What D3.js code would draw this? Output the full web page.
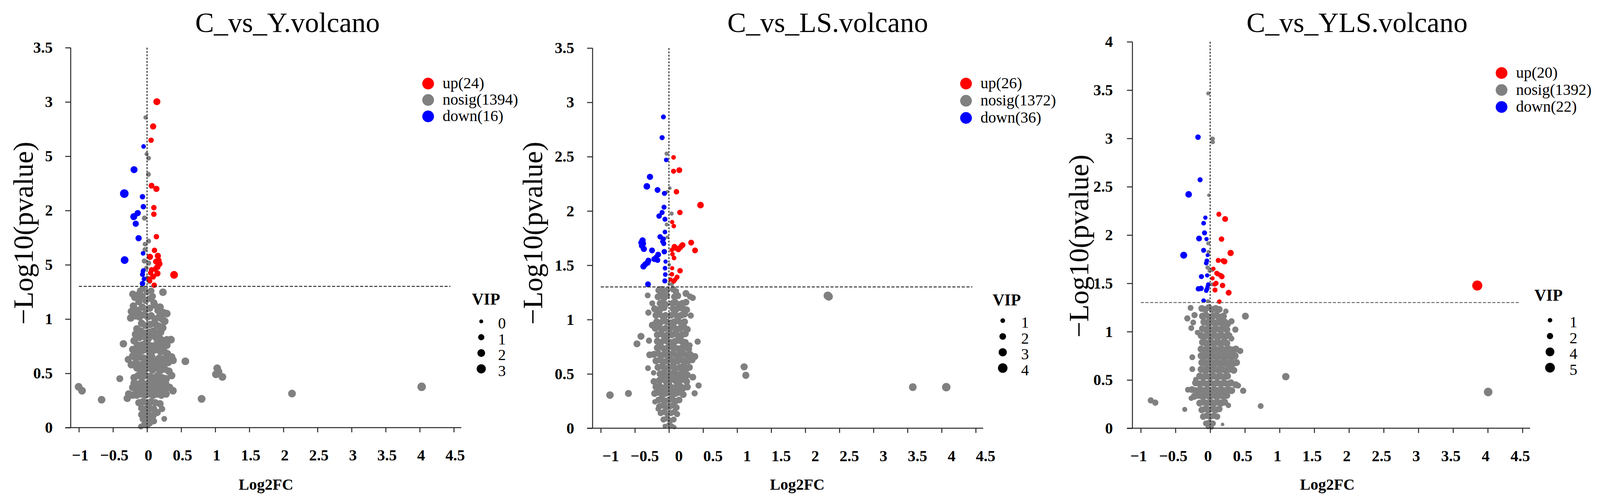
<!DOCTYPE html>
<html>
<head>
<meta charset="utf-8">
<script src="https://cdn.jsdelivr.net/npm/d3@7"></script>
<style>
body { margin: 0; background: #fff; }
svg text { font-family: "Liberation Serif", "Times New Roman", serif; }
</style>
</head>
<body>
<svg id="chart" width="4097" height="1288"></svg>
<script>

// ---- data: [log2FC, -log10(p), VIP] ----

const panelTitles = ["C_vs_Y.volcano", "C_vs_LS.volcano", "C_vs_YLS.volcano"];
const upCounts = [24, 26, 20];
const nosigCounts = [1394, 1372, 1392];
const downCounts = [16, 36, 22];
const yMax = [3.5, 3.5, 4];
const xTicks = [-1, -0.5, 0, 0.5, 1, 1.5, 2, 2.5, 3, 3.5, 4, 4.5];
const yTicks = [
  [0, 0.5, 1, 1.5, 2, 2.5, 3, 3.5],
  [0, 0.5, 1, 1.5, 2, 2.5, 3, 3.5],
  [0, 0.5, 1, 1.5, 2, 2.5, 3, 3.5, 4]
];
const vipBreaks = [[0, 1, 2, 3], [1, 2, 3, 4], [1, 2, 4, 5]];
const vipDomain = [[0, 3], [1, 4], [1, 5]];
const pCut = 1.30103; // -log10(0.05)

const yUp = [[0.144,3.002,1.5],[0.089,2.774,1.05],[0.059,2.647,0.64],[0.066,2.228,0.84],[0.137,2.199,1.05],
  [0.100,2.026,0.64],[0.100,1.966,0.64],[0.137,1.759,0.64],[0.109,1.633,0.64],[0.042,1.573,1.05],
  [0.158,1.582,1.05],[0.181,1.509,1.05],[0.152,1.480,1.05],[0.066,1.453,0.64],[0.152,1.420,1.05],
  [0.053,1.425,0.64],[0.396,1.407,2.0],[0.044,1.351,0.3],[0.105,1.312,0.64],[0.12,1.46,0.8],
  [0.09,1.39,0.8],[0.17,1.54,0.9],[0.03,1.37,0.5],[0.13,1.53,0.8]];
const yDown = [[-0.191,2.376,1.5],[-0.334,2.156,2.57],[-0.067,2.127,0.64],[-0.054,2.035,0.64],[-0.137,1.976,1.05],
  [-0.195,1.943,1.5],[-0.166,1.878,1.05],[-0.124,1.745,1.05],[-0.058,1.605,0.3],[-0.329,1.543,2.0],
  [-0.054,1.448,0.3],[-0.067,1.411,0.47],[-0.067,1.327,0.64],[-0.051,2.59,0.3],[-0.06,1.44,0.3],[-0.045,1.37,0.3]];
const yNosig = [
  [-0.021,2.857,0.2],[-0.006,2.52,0.1],[0.023,2.482,0.3],[0.02,2.333,0.4],[-0.038,1.93,0.5],[0.023,1.718,0.4],
  [-0.03,1.69,0.3],[-0.03,1.64,0.4],[-0.04,1.535,0.5],[0.023,1.516,0.5],[-0.01,1.47,0.3],[0.003,1.375,0.6],[0.035,1.347,0.5],
  [-0.21,1.23,1.6],[-0.15,1.22,1.7],[-0.10,1.26,1.4],[-0.06,1.28,1.2],[0.0,1.25,1.2],[0.06,1.26,1.3],[0.08,1.21,1.4],
  [-0.18,1.20,1.7],[-0.12,1.16,1.7],[-0.07,1.21,1.6],[-0.02,1.17,1.5],[0.04,1.19,1.4],[0.10,1.15,1.6],
  [-0.23,1.07,1.8],[-0.20,1.12,1.8],[-0.13,1.08,1.7],[-0.07,1.11,1.7],[-0.01,1.09,1.6],[0.04,1.10,1.6],[0.11,1.13,1.7],
  [0.16,1.08,1.8],[0.19,1.11,1.9],[0.24,1.06,1.8],[0.29,1.05,1.9],
  [-0.24,1.01,1.9],[-0.17,1.03,1.8],[-0.11,1.02,1.8],[-0.05,1.04,1.7],[0.01,1.02,1.7],[0.06,1.03,1.8],[0.12,1.00,1.8],
  [0.18,1.02,1.8],[0.22,1.00,1.8],[0.26,0.98,1.9],
  [-0.15,0.91,1.7],[-0.08,0.96,1.8],[-0.02,0.94,1.7],[0.04,0.95,1.7],[0.10,0.96,1.8],[0.15,0.94,1.8],[0.19,0.93,1.9],[0.23,0.92,1.9],
  [-0.15,0.87,1.8],[-0.09,0.89,1.7],[-0.03,0.87,1.7],[0.03,0.88,1.7],[0.09,0.89,1.7],[0.14,0.87,1.8],[0.20,0.88,1.8],
  [-0.17,0.86,1.8],[-0.11,0.83,1.8],[-0.04,0.84,1.7],[0.02,0.82,1.7],[0.06,0.85,1.8],[0.13,0.83,1.9],[0.19,0.82,1.8],
  [0.23,0.80,1.9],[0.29,0.81,1.8],[0.35,0.81,2.0],
  [-0.19,0.80,1.9],[-0.14,0.76,1.8],[-0.08,0.76,1.8],[-0.02,0.78,1.7],[0.03,0.76,1.7],[0.08,0.75,1.8],[0.14,0.77,1.8],
  [0.17,0.75,1.9],[0.23,0.76,1.8],[0.29,0.76,1.9],
  [-0.21,0.72,1.8],[-0.13,0.70,1.8],[-0.07,0.71,1.8],[-0.02,0.72,1.8],[0.04,0.70,1.8],[0.09,0.71,1.8],[0.15,0.72,1.9],
  [0.20,0.70,1.8],[0.25,0.70,1.9],[0.30,0.68,1.8],
  [-0.21,0.66,1.8],[-0.17,0.64,1.8],[-0.11,0.65,1.8],[-0.05,0.64,1.8],[0.02,0.64,1.8],[0.07,0.65,1.8],[0.12,0.62,1.9],
  [0.18,0.64,1.8],[0.23,0.63,1.9],[0.29,0.64,1.8],[0.36,0.65,2.0],
  [-0.23,0.58,1.9],[-0.16,0.59,1.8],[-0.10,0.58,1.8],[-0.04,0.59,1.8],[0.01,0.58,1.8],[0.06,0.59,1.8],[0.12,0.58,1.8],
  [0.18,0.59,1.8],[0.24,0.58,1.8],[0.31,0.60,1.9],[0.38,0.62,2.0],
  [-0.15,0.55,1.8],[-0.09,0.53,1.8],[-0.03,0.54,1.8],[0.03,0.55,1.8],[0.08,0.53,1.8],[0.14,0.55,1.9],[0.20,0.53,1.9],
  [0.26,0.54,1.8],[0.32,0.52,1.9],
  [-0.19,0.46,1.8],[-0.13,0.48,1.8],[-0.07,0.47,1.8],[-0.02,0.48,1.8],[0.04,0.47,1.8],[0.10,0.46,1.8],[0.16,0.48,1.9],
  [0.22,0.46,1.8],[0.28,0.45,1.9],[0.36,0.48,1.9],
  [-0.19,0.41,1.8],[-0.14,0.40,1.8],[-0.08,0.42,1.8],[-0.02,0.40,1.8],[0.04,0.41,1.8],[0.10,0.40,1.8],[0.16,0.42,1.8],
  [0.22,0.40,1.8],[0.27,0.41,1.9],
  [-0.21,0.37,1.8],[-0.15,0.35,1.8],[-0.09,0.36,1.8],[-0.03,0.35,1.8],[0.03,0.36,1.8],[0.09,0.35,1.8],[0.15,0.37,1.8],
  [0.21,0.35,1.8],[0.27,0.36,1.8],[0.33,0.37,1.9],[0.38,0.34,1.9],
  [-0.27,0.31,1.8],[-0.21,0.30,1.8],[-0.15,0.30,1.8],[-0.09,0.31,1.8],[-0.03,0.30,1.8],[0.03,0.31,1.8],[0.09,0.30,1.8],
  [0.15,0.31,1.8],[0.21,0.30,1.8],[0.28,0.31,1.8],[-0.29,0.27,1.8],
  [-0.12,0.23,1.7],[-0.06,0.24,1.7],[0.0,0.23,1.7],[0.06,0.24,1.7],[0.12,0.23,1.7],[0.19,0.22,1.7],
  [-0.08,0.18,1.6],[-0.02,0.17,1.6],[0.04,0.18,1.6],[0.10,0.17,1.6],[0.15,0.14,1.6],
  [-0.08,0.12,1.6],[-0.03,0.11,1.5],[0.03,0.12,1.5],[0.09,0.11,1.5],
  [-0.06,0.08,1.4],[-0.01,0.07,1.4],[0.05,0.08,1.4],[0.10,0.06,1.2],
  [-0.09,0.01,0.8],[-0.04,0.03,1.2],[0.0,0.02,1.1],[0.04,0.04,1.2],
  [0.233,1.247,1.9],[-0.347,0.772,1.8],[0.562,0.611,2.0],[-0.276,0.628,1.6],[-0.400,0.451,1.5],[-0.667,0.257,1.9],
  [0.800,0.265,2.0],[1.029,0.547,2.0],[1.105,0.467,2.0],[1.010,0.491,2.0],[1.048,0.515,2.0],[0.219,0.172,1.2],
  [0.252,0.081,0.8],[-1.004,0.376,2.0],[-0.954,0.340,2.0],[2.126,0.314,2.0],[4.028,0.376,2.5]];

const lsUp = [[0.068,2.493,1.0],[0.068,2.366,1.17],[0.152,2.376,1.54],[0.110,2.177,1.35],[0.463,2.054,1.96],
  [0.161,1.986,1.35],[0.047,1.898,0.85],[0.071,1.861,1.0],[0.326,1.709,1.54],[0.200,1.686,1.54],
  [0.081,1.670,1.54],[0.138,1.645,1.35],[0.383,1.637,1.54],[0.052,1.602,1.0],[0.075,1.567,1.0],
  [0.047,1.473,0.85],[0.163,1.450,1.35],[0.043,1.417,1.0],[0.119,1.391,1.17],[0.071,1.352,1.0],
  [0.104,1.657,1.3],[0.167,1.664,1.4],[0.024,1.368,0.9],[0.091,1.368,1.0],[0.043,1.641,1.0],[0.186,1.68,1.4]];
const lsDown = [[-0.081,2.866,1.1],[-0.100,2.675,1.17],[-0.039,2.470,1.0],[-0.278,2.314,1.74],[-0.324,2.226,1.96],
  [-0.167,2.193,1.54],[-0.066,2.162,1.17],[-0.072,2.035,1.17],[-0.100,1.986,1.17],[-0.144,1.953,1.35],
  [-0.058,1.924,1.17],[-0.058,1.807,1.0],[-0.129,1.762,1.35],[-0.387,1.729,1.74],[-0.081,1.742,1.17],
  [-0.381,1.700,1.74],[-0.076,1.700,1.17],[-0.368,1.651,1.74],[-0.248,1.637,1.54],[-0.068,1.625,1.35],
  [-0.158,1.598,1.54],[-0.215,1.557,1.54],[-0.167,1.547,1.35],[-0.314,1.524,1.74],[-0.374,1.489,1.74],
  [-0.049,1.534,0.85],[-0.057,1.473,1.0],[-0.053,1.415,1.0],[-0.060,1.356,1.17],[-0.307,1.325,1.54],
  [-0.406,1.709,1.6],[-0.349,1.508,1.6],[-0.186,1.573,1.4],[-0.091,1.719,1.2],[-0.301,1.543,1.6],[-0.397,1.68,1.6]];
const lsNosig = [
  [-0.034,2.528,0.8],[0.014,2.210,0.6],[-0.024,2.177,0.6],[0.039,1.976,0.8],[-0.034,1.875,0.7],[-0.024,1.758,0.6],
  [0.005,1.505,0.6],[0.005,1.329,0.6],[0.043,1.325,0.8],
  [-0.15,1.27,2.0],[-0.11,1.28,1.9],[-0.07,1.26,2.0],[-0.03,1.27,1.8],[0.06,1.28,1.9],[0.10,1.26,2.0],
  [-0.16,1.21,2.1],[-0.12,1.22,2.0],[-0.07,1.20,2.1],[-0.03,1.22,1.9],[0.08,1.21,2.0],[0.13,1.22,2.1],[0.25,1.24,2.2],
  [-0.13,1.15,2.1],[-0.09,1.16,2.0],[-0.05,1.14,2.1],[0.05,1.15,2.0],[0.09,1.16,2.1],[0.14,1.14,2.1],[0.20,1.15,2.2],[0.25,1.16,2.1],
  [-0.21,1.10,2.2],[-0.17,1.09,2.1],[-0.12,1.10,2.1],[-0.07,1.11,2.1],[0.06,1.10,2.1],[0.10,1.09,2.1],[0.15,1.11,2.2],
  [0.21,1.10,2.2],[0.26,1.09,2.1],
  [-0.19,1.04,2.2],[-0.14,1.05,2.1],[-0.09,1.03,2.1],[-0.05,1.04,2.0],[0.03,1.04,2.1],[0.08,1.05,2.2],[0.13,1.03,2.2],
  [0.18,1.04,2.2],[0.23,1.05,2.1],
  [-0.18,0.98,2.2],[-0.13,0.97,2.2],[-0.08,0.99,2.1],[-0.03,0.98,2.1],[0.03,0.97,2.2],[0.08,0.98,2.2],[0.13,0.99,2.2],
  [0.18,0.97,2.2],[0.23,0.98,2.1],[-0.244,0.949,2.2],
  [-0.20,0.92,2.2],[-0.15,0.93,2.2],[-0.10,0.91,2.2],[-0.05,0.92,2.1],[0.02,0.92,2.2],[0.07,0.93,2.2],[0.12,0.91,2.2],
  [0.17,0.92,2.2],[0.22,0.93,2.2],[0.27,0.91,2.1],
  [-0.17,0.86,2.2],[-0.12,0.87,2.2],[-0.07,0.85,2.2],[-0.02,0.86,2.2],[0.04,0.86,2.2],[0.09,0.87,2.2],[0.14,0.85,2.2],
  [0.19,0.86,2.2],[0.24,0.87,2.2],
  [-0.17,0.80,2.2],[-0.12,0.79,2.2],[-0.07,0.81,2.2],[-0.02,0.80,2.2],[0.04,0.79,2.2],[0.09,0.80,2.2],[0.14,0.81,2.2],
  [0.19,0.80,2.2],[0.24,0.79,2.2],
  [-0.17,0.74,2.2],[-0.12,0.75,2.2],[-0.07,0.73,2.2],[-0.02,0.74,2.2],[0.04,0.75,2.2],[0.09,0.74,2.2],[0.14,0.73,2.2],
  [0.19,0.74,2.2],[0.24,0.75,2.2],[0.29,0.73,2.1],
  [-0.282,0.676,2.1],[-0.22,0.68,2.2],[-0.16,0.69,2.2],[-0.11,0.67,2.2],[-0.06,0.68,2.2],[0.00,0.68,2.2],[0.06,0.69,2.2],
  [0.11,0.67,2.2],[0.16,0.68,2.2],[0.21,0.69,2.2],[0.26,0.67,2.2],[0.31,0.68,2.2],[0.38,0.66,2.2],
  [-0.19,0.62,2.2],[-0.13,0.63,2.2],[-0.08,0.61,2.2],[-0.03,0.62,2.2],[0.03,0.63,2.2],[0.08,0.61,2.2],[0.13,0.62,2.2],
  [0.18,0.63,2.2],[0.23,0.61,2.2],[0.28,0.62,2.2],[0.34,0.63,2.2],
  [-0.16,0.56,2.2],[-0.10,0.57,2.2],[-0.05,0.55,2.2],[0.00,0.56,2.2],[0.05,0.57,2.2],[0.10,0.55,2.2],[0.16,0.56,2.2],
  [0.21,0.57,2.2],[0.26,0.55,2.2],[0.30,0.56,2.2],
  [-0.13,0.50,2.2],[-0.08,0.51,2.2],[-0.03,0.49,2.2],[0.02,0.50,2.2],[0.07,0.51,2.2],[0.12,0.49,2.2],[0.17,0.50,2.2],
  [0.22,0.51,2.2],[0.27,0.49,2.2],[0.35,0.47,2.1],
  [-0.22,0.43,2.1],[-0.14,0.44,2.2],[-0.09,0.45,2.2],[-0.04,0.43,2.2],[0.01,0.44,2.2],[0.06,0.45,2.2],[0.11,0.43,2.2],
  [0.16,0.44,2.2],[0.21,0.45,2.2],[0.26,0.43,2.2],
  [-0.19,0.38,2.2],[-0.14,0.39,2.2],[-0.09,0.37,2.2],[-0.04,0.38,2.2],[0.01,0.39,2.2],[0.06,0.37,2.2],[0.11,0.38,2.2],
  [0.16,0.39,2.2],[0.21,0.37,2.2],[0.27,0.38,2.2],
  [-0.21,0.32,2.1],[-0.15,0.33,2.1],[-0.10,0.31,2.1],[-0.05,0.32,2.1],[0.00,0.33,2.1],[0.05,0.31,2.1],[0.10,0.32,2.1],
  [0.15,0.33,2.1],[0.21,0.31,2.1],
  [-0.15,0.26,2.0],[-0.10,0.27,2.0],[-0.05,0.25,2.0],[0.00,0.26,2.0],[0.05,0.27,2.0],[0.10,0.25,2.0],[0.15,0.26,2.0],
  [-0.14,0.20,1.9],[-0.09,0.21,1.9],[-0.04,0.19,1.9],[0.01,0.20,1.9],[0.06,0.21,1.9],[0.11,0.19,1.9],
  [-0.12,0.14,1.8],[-0.07,0.15,1.8],[-0.02,0.13,1.8],[0.03,0.14,1.8],[0.08,0.15,1.8],[0.12,0.13,1.7],
  [-0.08,0.08,1.7],[-0.03,0.09,1.7],[0.02,0.07,1.7],[0.07,0.08,1.6],
  [-0.06,0.02,1.0],[0.00,0.03,1.4],[0.04,0.02,1.3],[0.08,0.01,0.9],
  [-0.311,1.222,1.54],[-0.244,1.150,1.54],[-0.301,1.064,1.74],[-0.410,0.846,2.19],[-0.469,0.777,2.19],[-0.292,0.806,1.74],
  [0.421,0.797,1.74],[-0.307,0.553,1.54],[-0.225,0.510,1.35],[-0.594,0.320,2.19],[-0.865,0.305,2.5],[1.103,0.565,2.3],
  [1.128,0.487,2.3],[0.377,0.321,1.74],[0.435,0.393,1.74],[-0.205,0.243,1.35],[-0.158,0.178,1.35],[0.310,1.212,1.74],
  [0.349,1.20,1.74],[0.320,1.037,1.74],[0.306,0.763,1.54],[2.330,1.220,3.1],[2.345,1.212,3.0],[3.577,0.378,2.7],[4.068,0.378,3.2]];

const ylsUp = [[0.126,2.215,1.28],[0.216,2.166,1.74],[0.164,1.958,1.5],[0.295,1.814,1.99],[0.117,1.737,1.28],
  [0.207,1.726,1.74],[0.047,1.651,0.89],[0.108,1.598,1.28],[0.169,1.570,1.5],[0.034,1.552,0.89],
  [0.085,1.501,1.28],[0.179,1.478,1.5],[0.070,1.431,1.28],[0.267,1.403,1.74],[0.132,1.310,1.08],
  [3.849,1.477,5.3],[0.151,1.582,1.3],[0.066,1.49,1.1],[0.094,1.605,1.2],[0.188,1.733,1.4]];
const ylsDown = [[-0.175,3.013,1.5],[-0.145,2.572,1.28],[-0.310,2.421,2.26],[-0.069,2.180,0.89],[-0.094,2.122,1.08],
  [-0.081,2.022,1.28],[-0.160,1.964,1.74],[-0.052,1.958,0.89],[-0.094,1.842,1.28],[-0.381,1.791,2.54],
  [-0.037,1.791,0.72],[-0.047,1.733,1.08],[-0.056,1.709,1.08],[-0.126,1.570,1.28],[-0.043,1.582,0.89],
  [-0.169,1.443,1.5],[-0.131,1.447,1.5],[-0.047,1.438,1.08],[-0.028,1.489,0.89],[-0.094,1.320,1.08],
  [-0.056,1.424,1.0],[-0.037,1.466,0.9]];
const ylsNosig = [
  [-0.028,3.465,0.72],[0.034,2.996,1.08],[0.038,2.962,0.89],[-0.019,2.412,0.56],[-0.028,1.913,0.72],[-0.024,1.825,0.72],
  [-0.037,1.663,0.89],[0.028,1.640,1.08],[-0.009,1.628,0.72],[0.028,1.489,0.72],[-0.032,1.315,0.72],
  [-0.12,1.24,2.5],[-0.07,1.23,2.5],[-0.02,1.25,2.4],[0.03,1.23,2.5],[0.08,1.24,2.5],[0.13,1.23,2.5],
  [-0.11,1.16,2.6],[-0.06,1.17,2.6],[-0.01,1.15,2.6],[0.04,1.16,2.6],[0.09,1.17,2.6],[0.14,1.15,2.6],[0.19,1.16,2.6],
  [-0.09,1.10,2.6],[-0.04,1.09,2.6],[0.01,1.10,2.6],[0.06,1.09,2.6],[0.11,1.10,2.6],[0.16,1.09,2.6],[0.21,1.10,2.6],[0.25,1.08,2.6],
  [-0.11,1.03,2.6],[-0.06,1.02,2.6],[-0.01,1.03,2.6],[0.04,1.02,2.6],[0.09,1.03,2.6],[0.14,1.02,2.6],[0.19,1.03,2.6],[0.24,1.02,2.6],
  [-0.13,0.96,2.6],[-0.08,0.95,2.6],[-0.03,0.96,2.6],[0.02,0.95,2.6],[0.07,0.96,2.6],[0.12,0.95,2.6],[0.17,0.96,2.6],
  [0.22,0.95,2.6],[0.27,0.96,2.6],
  [-0.11,0.89,2.6],[-0.06,0.88,2.6],[-0.01,0.89,2.6],[0.04,0.88,2.6],[0.09,0.89,2.6],[0.14,0.88,2.6],[0.19,0.89,2.6],[0.24,0.88,2.6],
  [-0.13,0.82,2.6],[-0.08,0.81,2.6],[-0.03,0.82,2.6],[0.02,0.81,2.6],[0.07,0.82,2.6],[0.12,0.81,2.6],[0.17,0.82,2.6],
  [0.22,0.81,2.6],[0.27,0.82,2.6],[0.32,0.81,2.6],[0.37,0.82,2.6],
  [-0.13,0.75,2.6],[-0.08,0.74,2.6],[-0.03,0.75,2.6],[0.02,0.74,2.6],[0.07,0.75,2.6],[0.12,0.74,2.6],[0.17,0.75,2.6],
  [0.22,0.74,2.6],[0.27,0.75,2.6],[0.32,0.74,2.6],[0.36,0.75,2.6],
  [-0.12,0.68,2.6],[-0.07,0.67,2.6],[-0.02,0.68,2.6],[0.03,0.67,2.6],[0.08,0.68,2.6],[0.13,0.67,2.6],[0.18,0.68,2.6],
  [0.23,0.67,2.6],[0.28,0.68,2.6],[0.33,0.67,2.6],[0.38,0.68,2.6],
  [-0.13,0.61,2.6],[-0.08,0.60,2.6],[-0.03,0.61,2.6],[0.02,0.60,2.6],[0.07,0.61,2.6],[0.12,0.60,2.6],[0.17,0.61,2.6],
  [0.22,0.60,2.6],[0.28,0.61,2.6],[0.34,0.60,2.6],
  [-0.15,0.54,2.6],[-0.10,0.53,2.6],[-0.05,0.54,2.6],[0.00,0.53,2.6],[0.05,0.54,2.6],[0.10,0.53,2.6],[0.15,0.54,2.6],
  [0.20,0.53,2.6],[0.25,0.54,2.6],
  [-0.21,0.47,2.5],[-0.15,0.46,2.6],[-0.10,0.47,2.6],[-0.05,0.46,2.6],[0.00,0.47,2.6],[0.05,0.46,2.6],[0.10,0.47,2.6],
  [0.15,0.46,2.6],[0.20,0.47,2.6],[0.25,0.46,2.6],[0.30,0.47,2.6],[0.37,0.45,2.5],
  [-0.26,0.40,2.5],[-0.20,0.39,2.5],[-0.14,0.40,2.6],[-0.09,0.39,2.6],[-0.04,0.40,2.6],[0.01,0.39,2.6],[0.06,0.40,2.6],
  [0.11,0.39,2.6],[0.16,0.40,2.6],[0.21,0.39,2.6],[0.26,0.40,2.6],[0.31,0.39,2.6],
  [-0.23,0.33,2.5],[-0.17,0.34,2.5],[-0.11,0.33,2.6],[-0.06,0.34,2.6],[-0.01,0.33,2.6],[0.04,0.34,2.6],[0.09,0.33,2.6],
  [0.14,0.34,2.6],[0.19,0.33,2.6],[0.24,0.34,2.5],
  [-0.15,0.26,2.5],[-0.09,0.27,2.5],[-0.04,0.26,2.5],[0.01,0.27,2.5],[0.06,0.26,2.5],[0.11,0.27,2.5],[0.16,0.26,2.5],[0.21,0.27,2.5],
  [-0.12,0.19,2.4],[-0.07,0.20,2.4],[-0.02,0.19,2.4],[0.03,0.20,2.4],[0.08,0.19,2.4],[0.13,0.20,2.4],
  [-0.10,0.12,2.2],[-0.05,0.13,2.2],[0.00,0.12,2.2],[0.05,0.13,2.2],[0.10,0.12,2.1],
  [-0.06,0.05,1.8],[-0.01,0.06,1.8],[0.04,0.05,1.8],[-0.03,0.015,1.2],[0.02,0.01,1.1],
  [-0.282,1.246,1.74],[-0.225,1.171,1.99],[-0.329,1.137,1.99],[-0.244,1.095,1.74],[-0.272,1.037,1.74],[0.508,1.160,2.54],
  [0.226,1.211,1.5],[0.307,1.107,1.99],[0.363,1.021,1.99],[0.307,0.928,1.74],[0.433,0.800,1.99],[-0.257,0.735,1.74],
  [-0.257,0.612,1.74],[1.090,0.534,2.85],[-0.207,0.504,1.5],[-0.319,0.399,1.74],[0.476,0.388,1.99],[-0.855,0.288,1.99],
  [-0.790,0.265,1.99],[-0.366,0.195,1.28],[0.728,0.230,1.74],[-0.272,0.311,1.5],[-0.182,0.991,1.5],[0.404,0.441,1.74],
  [0.263,0.237,1.5],[0.179,0.040,0.56],[4.006,0.375,3.85]];

const upSeries = [yUp, lsUp, ylsUp];
const downSeries = [yDown, lsDown, ylsDown];
const nosigSeries = [yNosig, lsNosig, ylsNosig];

const colors = { up: "#ff0000", nosig: "#808080", down: "#0000ff" };

// ---- layout of the three panels (pixels) ----
const xDomain = [-1.12, 4.61];
const layouts = [
  { left: 181, right: 1181, top: 122, bottom: 1095, radius: [5, 11.7],
    titleX: 736, yTitleX: 84, yTitleY: 597, yPad: 32, xDx: 3, labX: 681,
    legX: 1096, legY: 214, legStep: 42, vipX: 1208, vipY: 780, vipDotX: 1232, vipDotY: 823, vipLabX: 1285,
    hLine: "#333", mask: [26, 352, 91, 490] },
  { left: 1517, right: 2517, top: 123, bottom: 1096.5, radius: [6, 12.2],
    titleX: 2119, yTitleX: 1388, yTitleY: 597, yPad: 33, xDx: 25, labX: 2041,
    legX: 2473, legY: 214, legStep: 44, vipX: 2541, vipY: 782, vipDotX: 2567, vipDotY: 821, vipLabX: 2624,
    hLine: "#333", mask: null },
  { left: 2899, right: 3917, top: 107, bottom: 1096.6, radius: [5.8, 12.5],
    titleX: 3474, yTitleX: 2786, yTitleY: 630, yPad: 36, xDx: -6, labX: 3398,
    legX: 3844, legY: 187, legStep: 43.5, vipX: 3928, vipY: 770, vipDotX: 3968, vipDotY: 820, vipLabX: 4028,
    hLine: "#6e6e6e", mask: null }
];

const svg = d3.select("#chart");
const fmt = d3.format("");
const ink = "#262626";

const drawPanel = (i) => {
  const L = layouts[i];
  const x = d3.scaleLinear().domain(xDomain).range([L.left, L.right]);
  const y = d3.scaleLinear().domain([0, yMax[i]]).range([L.bottom, L.top]);
  const r = d3.scaleRadial().domain(vipDomain[i]).range(L.radius);
  const g = svg.append("g");

  // points: nosig first, then up / down on top
  const layers = [["nosig", nosigSeries[i]], ["up", upSeries[i]], ["down", downSeries[i]]];
  layers.forEach(([key, pts]) => {
    g.append("g").selectAll("circle")
      .data(pts)
      .enter().append("circle")
      .attr("cx", d => x(d[0]))
      .attr("cy", d => y(d[1]))
      .attr("r", d => r(d[2]))
      .attr("fill", colors[key]);
  });

  // threshold lines
  g.append("line")
    .attr("x1", x(0)).attr("x2", x(0))
    .attr("y1", y(yMax[i])).attr("y2", y(0))
    .attr("stroke", ink).attr("stroke-width", 2.5).attr("stroke-dasharray", "5,3.5");
  g.append("line")
    .attr("x1", x(-1)).attr("x2", x(4.45))
    .attr("y1", y(pCut)).attr("y2", y(pCut))
    .attr("stroke", L.hLine).attr("stroke-width", 2.5).attr("stroke-dasharray", "8,4");

  // axes
  const xAxis = g.append("g")
    .attr("transform", `translate(0,${L.bottom})`)
    .call(d3.axisBottom(x).tickValues(xTicks).tickSize(12).tickPadding(44).tickFormat(fmt));
  const yAxis = g.append("g")
    .attr("transform", `translate(${L.left},0)`)
    .call(d3.axisLeft(y).tickValues(yTicks[i]).tickSize(14).tickPadding(L.yPad).tickFormat(fmt));
  [xAxis, yAxis].forEach(a => {
    a.attr("font-family", null).attr("font-size", null);
    a.select(".domain").remove();
    a.selectAll(".tick line").attr("stroke", ink).attr("stroke-width", 2.5);
    a.selectAll(".tick text")
      .attr("fill", "#000")
      .style("font-size", "40px")
      .style("font-weight", "bold");
  });
  xAxis.selectAll(".tick text").attr("dx", L.xDx);

  g.append("line")
    .attr("x1", L.left - 14).attr("x2", L.right)
    .attr("y1", L.bottom).attr("y2", L.bottom)
    .attr("stroke", ink).attr("stroke-width", 2.5);
  g.append("line")
    .attr("x1", L.left).attr("x2", L.left)
    .attr("y1", y(yMax[i])).attr("y2", L.bottom)
    .attr("stroke", ink).attr("stroke-width", 2.5);

  // titles
  g.append("text")
    .attr("x", L.titleX).attr("y", 82)
    .attr("text-anchor", "middle")
    .style("font-size", "72px")
    .text(panelTitles[i]);

  if (L.mask) {
    g.append("rect")
      .attr("x", L.mask[0]).attr("y", L.mask[1])
      .attr("width", L.mask[2]).attr("height", L.mask[3])
      .attr("fill", "#fff");
  }
  g.append("text")
    .attr("transform", `translate(${L.yTitleX},${L.yTitleY}) rotate(-90)`)
    .attr("text-anchor", "middle")
    .style("font-size", "72px")
    .text("\u2212Log10(pvalue)");

  g.append("text")
    .attr("x", L.labX).attr("y", 1254)
    .attr("text-anchor", "middle")
    .style("font-size", "40px").style("font-weight", "bold")
    .text("Log2FC");

  // colour legend
  const legend = [
    ["up", `up(${upCounts[i]})`],
    ["nosig", `nosig(${nosigCounts[i]})`],
    ["down", `down(${downCounts[i]})`]
  ];
  legend.forEach(([key, label], k) => {
    const cy = L.legY + k * L.legStep;
    g.append("circle").attr("cx", L.legX).attr("cy", cy).attr("r", 15).attr("fill", colors[key]);
    g.append("text")
      .attr("x", L.legX + 37).attr("y", cy).attr("dy", "0.3em")
      .style("font-size", "40px")
      .text(label);
  });

  // VIP size legend
  g.append("text")
    .attr("x", L.vipX).attr("y", L.vipY)
    .style("font-size", "42px").style("font-weight", "bold")
    .text("VIP");
  vipBreaks[i].forEach((v, k) => {
    const cy = L.vipDotY + k * 40.5;
    g.append("circle").attr("cx", L.vipDotX).attr("cy", cy).attr("r", r(v)).attr("fill", "#000");
    g.append("text")
      .attr("x", L.vipLabX).attr("y", cy).attr("dy", "0.45em")
      .attr("text-anchor", "middle")
      .style("font-size", "40px")
      .text(fmt(v));
  });
};

[0, 1, 2].forEach(drawPanel);
</script>
</body>
</html>
